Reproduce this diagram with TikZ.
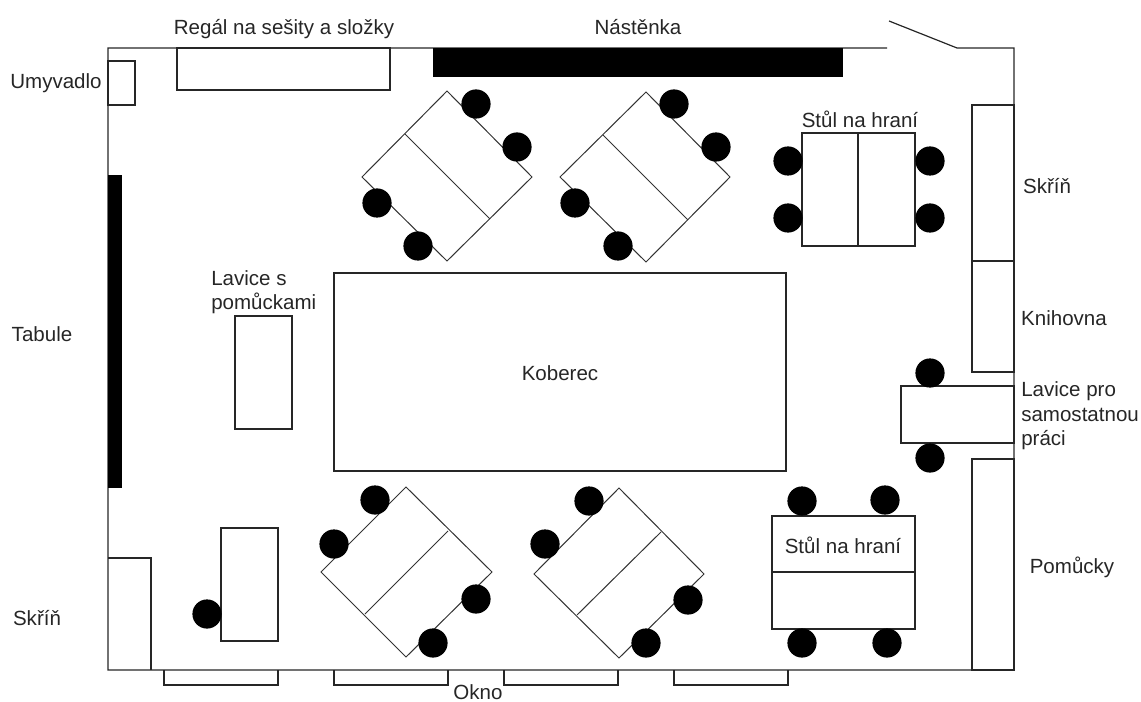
\documentclass[tikz,border=0pt]{standalone}
\usepackage{fontspec}
\setmainfont{Liberation Sans}
\tikzset{
  wall/.style={draw=black!85,line width=0.9pt},
  furn/.style={draw=black!85,line width=0.9pt},
  thin line/.style={draw=black!80,line width=0.75pt,line join=miter},
  solid block/.style={fill=black,draw=none},
  chair/.style={fill=black,draw=none},
  lbl/.style={font=\fontsize{15.4pt}{18.4pt}\selectfont,text=black!85,inner sep=0pt,align=left}
}
\newcommand{\seat}[2]{\fill[chair] (#1,#2) circle[radius=14.6];}
\begin{document}
\begin{tikzpicture}[x=0.75pt,y=-0.75pt]
\useasboundingbox (0,0) rectangle (1141,702);
% walls
\draw[wall] (887,48) -- (108,48) -- (108,670) -- (1014,670) -- (1014,48) -- (957,48) -- (889,21);
% black boards
\fill[solid block] (433,48) rectangle (843,77);
\fill[solid block] (108,175) rectangle (122,488);
% furniture along the walls
\draw[furn] (108,61) rectangle (135,105);
\draw[furn] (177,48) rectangle (390,90);
\draw[furn] (972,105) rectangle (1014,261);
\draw[furn] (972,261) rectangle (1014,372);
\draw[furn] (901,386) rectangle (1014,443);
\draw[furn] (972,459) rectangle (1014,670);
\draw[furn] (108,558) -| (151,670);
% windows
\foreach \a/\b in {164/278,334/448,504/618,674/788}
  \draw[furn] (\a,670) -- (\a,685) -- (\b,685) -- (\b,670);
% rectangles
\draw[furn] (334,273) rectangle (786,471);
\draw[furn] (235,316) rectangle (292,429);
\draw[furn] (221,528) rectangle (278,641);
\seat{207}{614}
% upper right table
\draw[furn] (802,133) rectangle (915,246);
\draw[furn] (858,133) -- (858,246);
\seat{788}{161}\seat{788}{218}\seat{930}{161}\seat{930}{218}
% lower right table
\draw[furn] (772,516) rectangle (915,629);
\draw[furn] (772,572) -- (915,572);
\seat{802}{501}\seat{885}{500}\seat{802}{643}\seat{887}{643}
% bench seats
\seat{930}{373}\seat{930}{458}
% rotated tables
\draw[thin line] (447,91) -- (532,177) -- (447,261) -- (362,177) -- cycle;
\draw[thin line] (405,134) -- (490,219);
\seat{476}{104}\seat{517}{147}\seat{377}{203}\seat{418}{246}
\draw[thin line] (646,92) -- (730,177) -- (646,262) -- (560,177) -- cycle;
\draw[thin line] (603,135) -- (688,220);
\seat{674}{104}\seat{716}{147}\seat{575}{203}\seat{618}{246}
\draw[thin line] (406,487) -- (492,572) -- (406,657) -- (321,572) -- cycle;
\draw[thin line] (448,531) -- (365,614);
\seat{375}{500}\seat{334}{544}\seat{476}{599}\seat{433}{643}
\draw[thin line] (619,488) -- (704,574) -- (619,658) -- (534,574) -- cycle;
\draw[thin line] (661,532) -- (577,615);
\seat{589}{501}\seat{545}{544}\seat{688}{600}\seat{646}{643}
% labels
\node[lbl] (regal) at (284,29) {Regál na sešity a složky};
\node[lbl] (nastenka) at (638,27) {Nástěnka};
\node[lbl] (umyvadlo) at (56,83) {Umyvadlo};
\node[lbl] (stula) at (860,119) {Stůl na hraní};
\node[lbl] (skrina) at (1047,186) {Skříň};
\node[lbl,anchor=west] (lavicep) at (211,292) {Lavice s\\pomůckami};
\node[lbl] (knihovna) at (1064,318) {Knihovna};
\node[lbl] (tabule) at (42,334) {Tabule};
\node[lbl] (koberec) at (560,373) {Koberec};
\node[lbl,anchor=west] (lavices) at (1021,416) {Lavice pro\\samostatnou\\práci};
\node[lbl] (stulb) at (843,545) {Stůl na hraní};
\node[lbl] (pomucky) at (1072,567) {Pomůcky};
\node[lbl] (skrinb) at (37,618) {Skříň};
\node[lbl] (okno) at (478,692) {Okno};
\end{tikzpicture}
\end{document}
